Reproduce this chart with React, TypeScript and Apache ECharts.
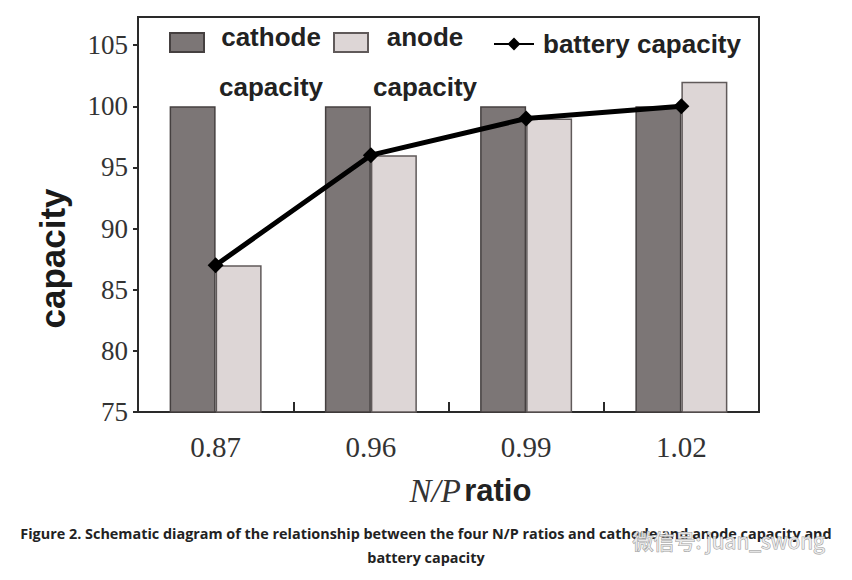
import React, { useEffect, useRef } from "react";
import * as echarts from "echarts";

const categories = ["0.87", "0.96", "0.99", "1.02"];
const cathodeCapacity = [100, 100, 100, 100];
const anodeCapacity = [87, 96, 99, 102];
const batteryCapacity = [87, 96, 99, 100];
const yTicks = [75, 80, 85, 90, 95, 100, 105];

const SERIF = "'Liberation Serif', 'Times New Roman', serif";
const SANS = "'Liberation Sans', Arial, sans-serif";

export default function App() {
  const ref = useRef<HTMLDivElement>(null);
  useEffect(() => {
    document.body.style.margin = "0";
    const chart = echarts.init(ref.current!, null, { renderer: "svg" });
    const legendRich = {
      t: { fontFamily: SANS, fontWeight: "bold", fontSize: 26, color: "#222", lineHeight: 50, align: "center" },
    };
    chart.setOption({
      animation: false,
      backgroundColor: "#ffffff",
      grid: { left: 138, right: 93, top: 17, bottom: 168, show: true, borderColor: "#2a2a2a", borderWidth: 2, backgroundColor: "transparent" },
      legend: [
        {
          data: ["cathode capacity"],
          left: 169,
          top: 24,
          padding: 0,
          icon: "rect",
          itemWidth: 34,
          itemHeight: 19,
          formatter: () => "{t|cathode}\n{t|capacity}",
          textStyle: { padding: [39, 0, 0, 10], rich: legendRich },
        },
        {
          data: ["anode capacity"],
          left: 333,
          top: 24,
          padding: 0,
          icon: "rect",
          itemWidth: 34,
          itemHeight: 19,
          formatter: () => "{t|anode}\n{t|capacity}",
          textStyle: { padding: [39, 0, 0, 0], rich: legendRich },
        },
        {
          data: ["battery capacity"],
          left: 493,
          top: 31,
          padding: 0,
          itemWidth: 40,
          itemHeight: 16,
          textStyle: { fontFamily: SANS, fontWeight: "bold", fontSize: 26, color: "#222", padding: [8, 0, 0, 4] },
        },
      ],
      xAxis: {
        type: "category",
        data: categories,
        boundaryGap: true,
        axisLine: { show: true, lineStyle: { color: "#2a2a2a", width: 2 } },
        axisTick: { show: true, inside: true, length: 10, interval: 0, lineStyle: { color: "#2a2a2a", width: 2 } },
        axisLabel: { fontFamily: SERIF, fontSize: 29, color: "#333", margin: 20 },
        name: "{i|N/P} {b|ratio}",
        nameLocation: "middle",
        nameGap: 62,
        nameTextStyle: {
          padding: [0, 0, 0, 44],
          rich: {
            i: { fontFamily: SERIF, fontStyle: "italic", fontSize: 33, color: "#333" },
            b: { fontFamily: SANS, fontWeight: "bold", fontSize: 31, color: "#222" },
          },
        },
      },
      yAxis: {
        type: "value",
        min: 75,
        max: 107.3,
        interval: 5,
        splitLine: { show: false },
        axisLine: { show: true, lineStyle: { color: "#2a2a2a", width: 2 } },
        axisTick: { show: true, inside: false, length: 5, lineStyle: { color: "#2a2a2a", width: 2 } },
        axisLabel: {
          fontFamily: SERIF,
          fontSize: 27,
          color: "#333",
          margin: 10,
          showMaxLabel: false,
          formatter: (v: number) => (yTicks.includes(v) ? String(v) : ""),
        },
        name: "capacity",
        nameLocation: "middle",
        nameRotate: 90,
        nameGap: 68,
        nameTextStyle: { fontFamily: SANS, fontWeight: "bold", fontSize: 35, color: "#1a1a1a", padding: [0, 88, 0, 0] },
      },
      series: [
        {
          name: "cathode capacity",
          type: "bar",
          data: cathodeCapacity,
          barWidth: 46,
          barGap: "0%",
          itemStyle: { color: "#7c7676", borderColor: "#454040", borderWidth: 1.5 },
        },
        {
          name: "anode capacity",
          type: "bar",
          data: anodeCapacity,
          barWidth: 46,
          itemStyle: { color: "#ddd6d6", borderColor: "#605a5a", borderWidth: 1.5 },
        },
        {
          name: "battery capacity",
          type: "line",
          data: batteryCapacity,
          symbol: "diamond",
          symbolSize: 16,
          z: 5,
          lineStyle: { color: "#000", width: 5 },
          itemStyle: { color: "#000" },
        },
      ],
      graphic: [
        {
          type: "text",
          left: "center",
          top: 526,
          style: {
            text: "Figure 2. Schematic diagram of the relationship between the four N/P ratios and cathode and anode capacity and",
            font: "bold 14.4px 'Open Sans', sans-serif",
            fill: "#222",
          },
        },
        {
          type: "text",
          left: "center",
          top: 550,
          style: {
            text: "battery capacity",
            font: "bold 14.4px 'Open Sans', sans-serif",
            fill: "#222",
          },
        },
        {
          type: "text",
          left: 632,
          top: 529,
          style: {
            text: "微信号: juan_swong",
            font: "21px 'Noto Sans CJK SC', sans-serif",
            fill: "rgba(240,240,240,0.85)",
            stroke: "#9a9a9a",
            lineWidth: 1,
          },
        },
      ],
    });
    return () => chart.dispose();
  }, []);
  return <div ref={ref} style={{ width: 852, height: 580 }} />;
}
